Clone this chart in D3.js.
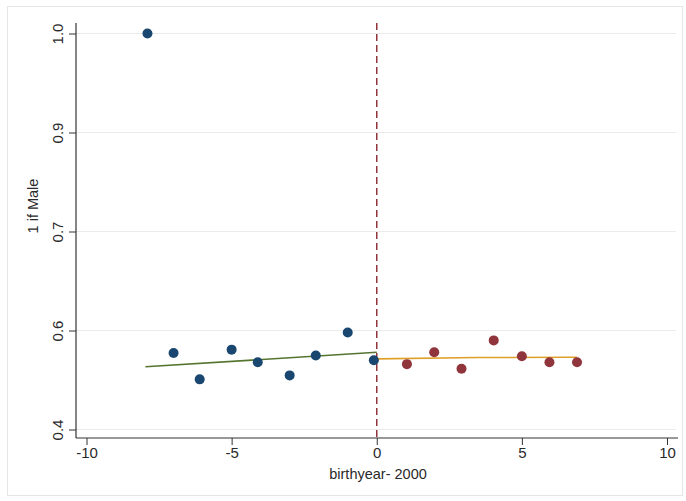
<!DOCTYPE html>
<html>
<head>
<meta charset="utf-8">
<script src="https://cdn.jsdelivr.net/npm/d3@7"></script>
<style>
  html, body { margin: 0; padding: 0; background: #fff; }
  svg { display: block; font-family: "Liberation Sans", Arial, sans-serif; }
</style>
</head>
<body>
<svg id="chart" width="686" height="501"></svg>
<script>
// ---- data ----
const beforeX = [-7.9, -7.0, -6.1, -5.0, -4.1, -3.0, -2.1, -1.0, -0.1];
const beforeY = [1.0, 0.516, 0.476, 0.521, 0.502, 0.482, 0.512, 0.547, 0.505];
const afterX  = [1.04, 1.98, 2.92, 4.03, 5.0, 5.95, 6.9];
const afterY  = [0.499, 0.517, 0.492, 0.535, 0.511, 0.502, 0.502];
const fitBeforeX = [-7.97, 0];
const fitBeforeY = [0.495, 0.517];
const fitAfterX  = [0, 3.5, 6.9];
const fitAfterY  = [0.507, 0.509, 0.5095];
const xTicks = [-10, -5, 0, 5, 10];
const yTicks = [0.4, 0.55, 0.7, 0.85, 1.0];
const yTickLabels = ["0.4", "0.6", "0.7", "0.9", "1.0"];
const cutoff = 0;

const svg = d3.select("#chart");
// outer frame
svg.append("rect").attr("x", 7.5).attr("y", 6.5).attr("width", 675).attr("height", 489)
  .attr("fill", "#fff").attr("stroke", "#e6e6e6").attr("stroke-width", 1);

const x = d3.scaleLinear().domain([-10, 10]).range([86.5, 667]);
const y = d3.scaleLinear().domain([0.4, 1.0]).range([429.5, 33.5]);
const plotLeft = 76, plotRight = 678, plotTop = 23, plotBottom = 438;

// gridlines
svg.append("g").selectAll("line").data(yTicks).join("line")
  .attr("x1", plotLeft).attr("x2", 676)
  .attr("y1", d => y(d)).attr("y2", d => y(d))
  .attr("stroke", "#ebebeb").attr("stroke-width", 1);

// y axis
const yAxis = d3.axisLeft(y).tickValues(yTicks).tickSize(7).tickSizeOuter(0)
  .tickFormat((d, i) => yTickLabels[i]);
const gy = svg.append("g").attr("transform", `translate(${plotLeft},0)`).call(yAxis);
gy.select(".domain").attr("d", `M0,${plotTop}V${plotBottom}`).attr("stroke", "#333").attr("stroke-width", 1.2);
gy.selectAll(".tick line").attr("stroke", "#333");
gy.selectAll(".tick text")
  .attr("transform", "rotate(-90)")
  .attr("x", 0).attr("y", -13).attr("dy", 0)
  .attr("text-anchor", "middle")
  .attr("font-size", 15).attr("fill", "#2a2a2a")
  .attr("font-family", "Liberation Sans, Arial, sans-serif");

// x axis
const xAxis = d3.axisBottom(x).tickValues(xTicks).tickSize(7).tickSizeOuter(0).tickFormat(d3.format("d"));
const gx = svg.append("g").attr("transform", `translate(0,${plotBottom})`).call(xAxis);
gx.select(".domain").attr("d", `M${plotLeft},0H${plotRight}`).attr("stroke", "#333").attr("stroke-width", 1.2);
gx.selectAll(".tick line").attr("stroke", "#333");
gx.selectAll(".tick text").attr("y", 9).attr("dy", "0.71em")
  .attr("font-size", 15).attr("fill", "#2a2a2a")
  .attr("font-family", "Liberation Sans, Arial, sans-serif")
  .text(d => d < 0 ? "-" + Math.abs(d) : d);

// axis titles
svg.append("text").attr("x", 378).attr("y", 479).attr("text-anchor", "middle")
  .attr("font-size", 14.5).attr("fill", "#2a2a2a").text("birthyear- 2000");
svg.append("text").attr("transform", "translate(38,206) rotate(-90)").attr("text-anchor", "middle")
  .attr("font-size", 14.5).attr("fill", "#2a2a2a").text("1 if Male");

// cutoff line
svg.append("line").attr("x1", x(cutoff)).attr("x2", x(cutoff))
  .attr("y1", plotTop).attr("y2", plotBottom)
  .attr("stroke", "#90353b").attr("stroke-width", 1.5).attr("stroke-dasharray", "7,4");

// fit lines
const line = d3.line().x(d => x(d[0])).y(d => y(d[1]));
svg.append("path").datum(fitBeforeX.map((v, i) => [v, fitBeforeY[i]]))
  .attr("d", line).attr("fill", "none").attr("stroke", "#55752f").attr("stroke-width", 1.6);
svg.append("path").datum(fitAfterX.map((v, i) => [v, fitAfterY[i]]))
  .attr("d", d3.line().curve(d3.curveMonotoneX).x(d => x(d[0])).y(d => y(d[1])))
  .attr("fill", "none").attr("stroke", "#dfa02a").attr("stroke-width", 1.6);

// points
svg.append("g").selectAll("circle").data(beforeX.map((v, i) => [v, beforeY[i]])).join("circle")
  .attr("cx", d => x(d[0])).attr("cy", d => y(d[1])).attr("r", 5).attr("fill", "#1a476f");
svg.append("g").selectAll("circle").data(afterX.map((v, i) => [v, afterY[i]])).join("circle")
  .attr("cx", d => x(d[0])).attr("cy", d => y(d[1])).attr("r", 5).attr("fill", "#90353b");
</script>
</body>
</html>
